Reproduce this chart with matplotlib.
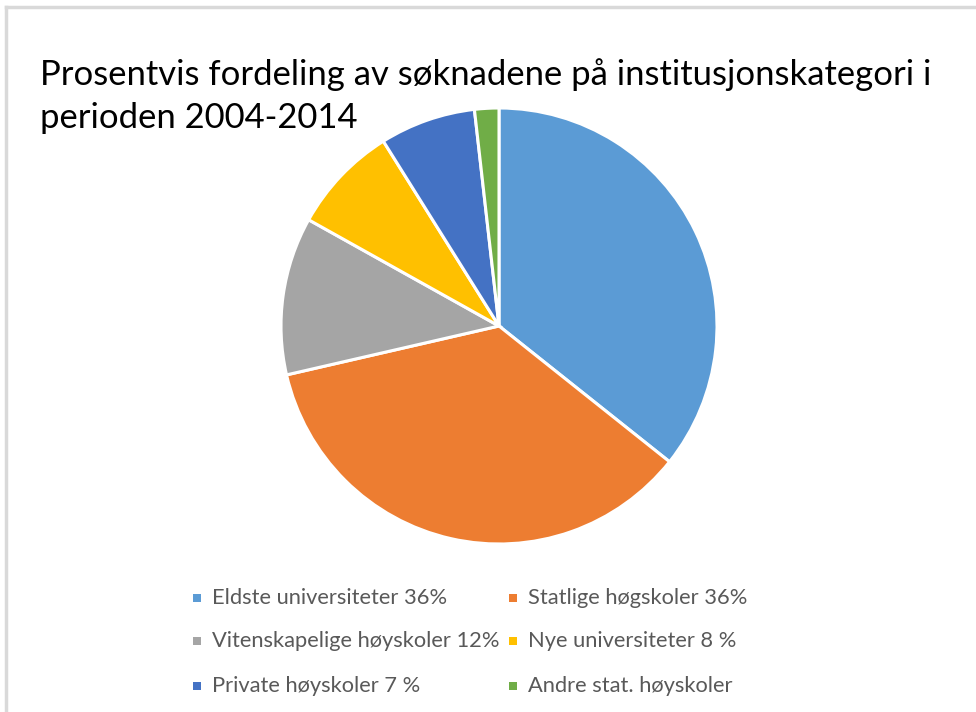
import matplotlib
matplotlib.use("Agg")
import matplotlib.pyplot as plt
from matplotlib.patches import Rectangle
from matplotlib.lines import Line2D

categories = ["Eldste universiteter 36%", "Statlige høgskoler 36%",
              "Vitenskapelige høyskoler 12%", "Nye universiteter 8 %",
              "Private høyskoler 7 %", "Andre stat. høyskoler"]
values = [35.7, 35.7, 11.7, 8.0, 7.1, 1.8]
colors = ["#5B9BD5", "#ED7D31", "#A5A5A5", "#FFC000", "#4472C4", "#70AD47"]
title_lines = ["Prosentvis fordeling av søknadene på institusjonskategori i",
               "perioden 2004-2014"]

W, H = 976, 712
FONT = "Lato"
fig = plt.figure(figsize=(W / 100, H / 100), dpi=100)
fig.patch.set_facecolor("white")

# chart frame (light gray border)
fig.add_artist(Line2D([6 / W, 6 / W], [0, 1 - 7 / H], color="#D9D9D9", lw=2.5))
fig.add_artist(Line2D([6 / W, 1], [1 - 7 / H, 1 - 7 / H], color="#D9D9D9", lw=2.5))

# pie
cx, cy, r = 499, 326, 218
ax = fig.add_axes([(cx - r) / W, (H - cy - r) / H, 2 * r / W, 2 * r / H])
ax.pie(values, colors=colors, startangle=90, counterclock=False,
       wedgeprops=dict(edgecolor="white", linewidth=2.2))
ax.set_xlim(-1.0, 1.0)
ax.set_ylim(-1.0, 1.0)
ax.axis("off")

renderer = fig.canvas.get_renderer()

def fit(text_obj, target_px):
    fs = text_obj.get_fontsize()
    for _ in range(3):
        w = text_obj.get_window_extent(renderer).width
        fs = fs * target_px / w
        text_obj.set_fontsize(fs)
    return fs

# title
t1 = fig.text(40 / W, 1 - 75 / H, title_lines[0], family=FONT, fontsize=22,
              color="black", va="center", ha="left")
fs = fit(t1, 890)
t2 = fig.text(40 / W, 1 - 118 / H, title_lines[1], family=FONT, fontsize=fs,
              color="black", va="center", ha="left")

# legend
col_x = [197, 513]
row_y = [598, 641, 686]
texts = []
for i, (lab, c) in enumerate(zip(categories, colors)):
    x = col_x[i % 2]
    y = row_y[i // 2]
    fig.add_artist(Rectangle(((x - 4) / W, 1 - (y + 4) / H), 8 / W, 8 / H,
                             facecolor=c, edgecolor="none"))
    t = fig.text((x + 15) / W, 1 - y / H, lab, family=FONT, fontsize=15,
                 color="#595959", va="center", ha="left")
    texts.append(t)
lfs = fit(texts[0], 235)
for t in texts:
    t.set_fontsize(lfs)

fig.savefig("out.png", dpi=100)
